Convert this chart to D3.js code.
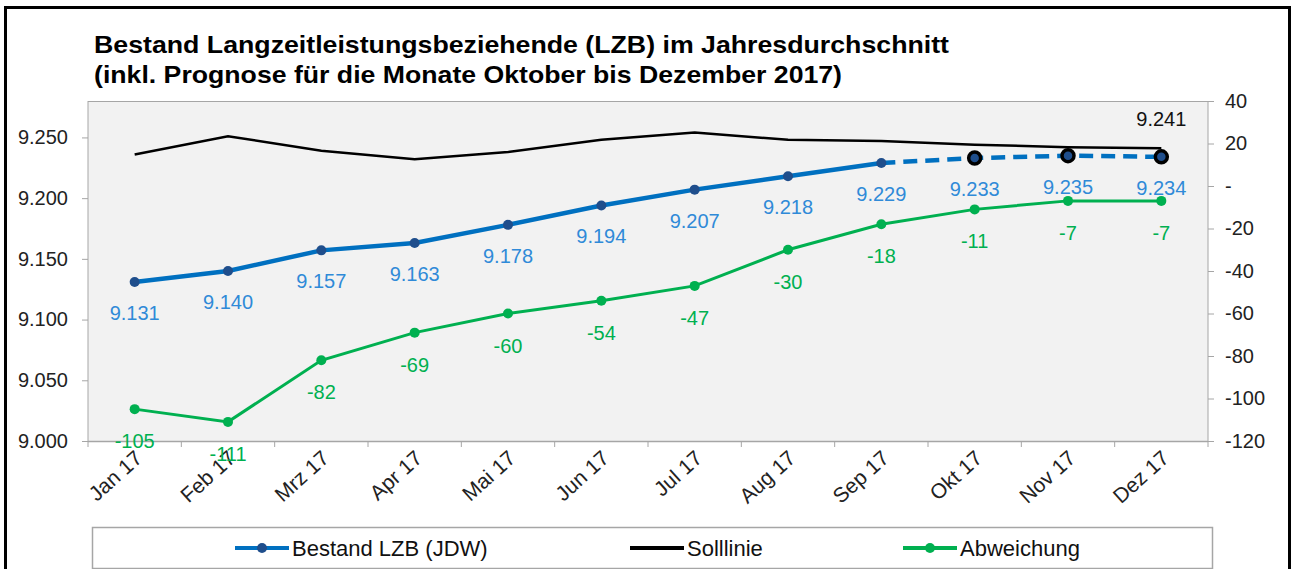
<!DOCTYPE html>
<html>
<head>
<meta charset="utf-8">
<script src="https://cdn.jsdelivr.net/npm/d3@7"></script>
<style>
  body { margin: 0; background: #fff; }
  svg { display: block; font-family: "Liberation Sans", Arial, sans-serif; }
</style>
</head>
<body>
<div id="chart"></div>
<script>
// --- Data ---
const months = ["Jan 17", "Feb 17", "Mrz 17", "Apr 17", "Mai 17", "Jun 17",
                "Jul 17", "Aug 17", "Sep 17", "Okt 17", "Nov 17", "Dez 17"];
const bestand = [9131, 9140, 9157, 9163, 9178, 9194, 9207, 9218, 9229, 9233, 9235, 9234];
const soll = [9236, 9251, 9239, 9232, 9238, 9248, 9254, 9248, 9247, 9244, 9242, 9241];
const abweichung = [-105, -111, -82, -69, -60, -54, -47, -30, -18, -11, -7, -7];
const firstForecast = 9; // Okt 17 onward is Prognose
const leftTicks = [9000, 9050, 9100, 9150, 9200, 9250];
const rightTicks = [40, 20, 0, -20, -40, -60, -80, -100, -120];
const titleLines = [
    "Bestand Langzeitleistungsbeziehende (LZB) im Jahresdurchschnitt",
    "(inkl. Prognose für die Monate Oktober bis Dezember 2017)"
];
const legendItems = [
    { label: "Bestand LZB (JDW)", color: "#0070c0", marker: "#1f4e8c" },
    { label: "Solllinie", color: "#000000", marker: null },
    { label: "Abweichung", color: "#00b050", marker: "#00b050" }
];

// --- Layout ---
const W = 1293, H = 569;
const plot = { left: 88, right: 1208, top: 101, bottom: 441 };
const titleWidths = [855, 748];

const svg = d3.select("#chart").append("svg").attr("width", W).attr("height", H);

// outer frame
svg.append("rect").attr("x", 5.5).attr("y", 7.5).attr("width", 1284).attr("height", 570)
    .attr("fill", "none").attr("stroke", "#000").attr("stroke-width", 3);

// title
svg.selectAll(".title").data(titleLines).join("text")
    .attr("class", "title")
    .attr("x", 94).attr("y", (d, i) => 53 + i * 30)
    .attr("textLength", (d, i) => titleWidths[i]).attr("lengthAdjust", "spacingAndGlyphs")
    .style("font-weight", "bold").style("font-size", "24px").attr("fill", "#000")
    .text(d => d);

// scales
const x = d3.scaleBand().domain(months).range([plot.left, plot.right]).padding(0);
const yL = d3.scaleLinear().domain([9000, 9280]).range([plot.bottom, plot.top]);
const yR = d3.scaleLinear().domain([-120, 40]).range([plot.bottom, plot.top]);
const cx = m => x(m) + x.bandwidth() / 2;
const fmt = v => d3.format(",")(v).replace(/,/g, ".");

// plot background
svg.append("rect").attr("x", plot.left).attr("y", plot.top)
    .attr("width", plot.right - plot.left).attr("height", plot.bottom - plot.top)
    .attr("fill", "#f2f2f2");
svg.append("line").attr("x1", plot.left).attr("x2", plot.right)
    .attr("y1", plot.top + 0.5).attr("y2", plot.top + 0.5)
    .attr("stroke", "#a6a6a6").attr("stroke-width", 1);

// left axis
const axL = svg.append("g").attr("transform", `translate(${plot.left},0)`)
    .call(d3.axisLeft(yL).tickValues(leftTicks).tickSize(6).tickPadding(14).tickFormat(fmt));
axL.select(".domain").attr("stroke", "#a6a6a6").attr("d", `M0,${plot.top}V${plot.bottom}`);
axL.selectAll(".tick line").attr("stroke", "#a6a6a6");
axL.selectAll("text").style("font-size", "20px").attr("fill", "#222")
    .style("font-family", "Liberation Sans, Arial, sans-serif");

// right axis
const axR = svg.append("g").attr("transform", `translate(${plot.right},0)`)
    .call(d3.axisRight(yR).tickValues(rightTicks).tickSize(6).tickPadding(11)
        .tickFormat(d => d === 0 ? "-" : d));
axR.select(".domain").attr("stroke", "#a6a6a6").attr("d", `M0,${plot.top}V${plot.bottom}`);
axR.selectAll(".tick line").attr("stroke", "#a6a6a6");
axR.selectAll("text").style("font-size", "20px").attr("fill", "#222")
    .style("font-family", "Liberation Sans, Arial, sans-serif");

// bottom axis (ticks at category boundaries)
const bounds = months.map(m => x(m)).concat([plot.right]);
svg.append("line").attr("x1", plot.left).attr("x2", plot.right)
    .attr("y1", plot.bottom + 0.5).attr("y2", plot.bottom + 0.5)
    .attr("stroke", "#a6a6a6").attr("stroke-width", 1.5);
svg.selectAll(".xtick").data(bounds).join("line")
    .attr("class", "xtick")
    .attr("x1", d => d).attr("x2", d => d)
    .attr("y1", plot.bottom).attr("y2", plot.bottom + 6)
    .attr("stroke", "#a6a6a6");
svg.selectAll(".xlabel").data(months).join("text")
    .attr("class", "xlabel")
    .attr("text-anchor", "end")
    .attr("transform", d => `translate(${cx(d) + 9},${plot.bottom + 19}) rotate(-42)`)
    .style("font-size", "21px").attr("fill", "#222")
    .text(d => d);

// --- Series ---
const idx = d3.range(months.length);

// Solllinie
svg.append("path")
    .datum(idx)
    .attr("fill", "none").attr("stroke", "#000").attr("stroke-width", 2.5)
    .attr("d", d3.line().x(i => cx(months[i])).y(i => yL(soll[i])));
svg.append("text")
    .attr("x", cx(months[11])).attr("y", yL(soll[11]) - 22)
    .attr("text-anchor", "middle").style("font-size", "20px").attr("fill", "#111")
    .text(fmt(soll[11]));

// Abweichung
svg.append("path")
    .datum(idx)
    .attr("fill", "none").attr("stroke", "#00b050").attr("stroke-width", 3)
    .attr("d", d3.line().x(i => cx(months[i])).y(i => yR(abweichung[i])));
svg.selectAll(".abwDot").data(idx).join("circle")
    .attr("class", "abwDot")
    .attr("cx", i => cx(months[i])).attr("cy", i => yR(abweichung[i]))
    .attr("r", 5).attr("fill", "#00b050");
svg.selectAll(".abwLbl").data(idx).join("text")
    .attr("class", "abwLbl")
    .attr("x", i => cx(months[i])).attr("y", i => yR(abweichung[i]) + 39)
    .attr("text-anchor", "middle").style("font-size", "20px").attr("fill", "#00b050")
    .text(i => abweichung[i]);

// Bestand
const lineB = d3.line().x(i => cx(months[i])).y(i => yL(bestand[i]));
svg.append("path")
    .datum(idx.slice(0, firstForecast))
    .attr("fill", "none").attr("stroke", "#0070c0").attr("stroke-width", 4.5)
    .attr("d", lineB);
svg.append("path")
    .datum(idx.slice(firstForecast - 1))
    .attr("fill", "none").attr("stroke", "#0070c0").attr("stroke-width", 4.5)
    .attr("stroke-dasharray", "14,8")
    .attr("d", lineB);
svg.selectAll(".bDot").data(idx).join("circle")
    .attr("class", "bDot")
    .attr("cx", i => cx(months[i])).attr("cy", i => yL(bestand[i]))
    .attr("r", i => i < firstForecast ? 5 : 6)
    .attr("fill", "#1f4e8c")
    .attr("stroke", i => i < firstForecast ? "none" : "#000")
    .attr("stroke-width", 3.5);
svg.selectAll(".bLbl").data(idx).join("text")
    .attr("class", "bLbl")
    .attr("x", i => cx(months[i])).attr("y", i => yL(bestand[i]) + 38)
    .attr("text-anchor", "middle").style("font-size", "20px").attr("fill", "#2f8ad8")
    .text(i => fmt(bestand[i]));

// --- Legend ---
svg.append("rect").attr("x", 92.5).attr("y", 527.5).attr("width", 1120).attr("height", 41)
    .attr("fill", "#fff").attr("stroke", "#a6a6a6").attr("stroke-width", 1.5);
const legendX = [235, 630, 903];
const lg = svg.selectAll(".lg").data(legendItems).join("g")
    .attr("class", "lg")
    .attr("transform", (d, i) => `translate(${legendX[i]},548)`);
lg.append("line").attr("x1", 0).attr("x2", 54).attr("y1", 0).attr("y2", 0)
    .attr("stroke", d => d.color).attr("stroke-width", 4);
lg.filter(d => d.marker).append("circle").attr("cx", 27).attr("cy", 0).attr("r", 5)
    .attr("fill", d => d.marker);
lg.append("text").attr("x", 57).attr("y", 8).style("font-size", "22px").attr("fill", "#111")
    .text(d => d.label);
</script>
</body>
</html>
